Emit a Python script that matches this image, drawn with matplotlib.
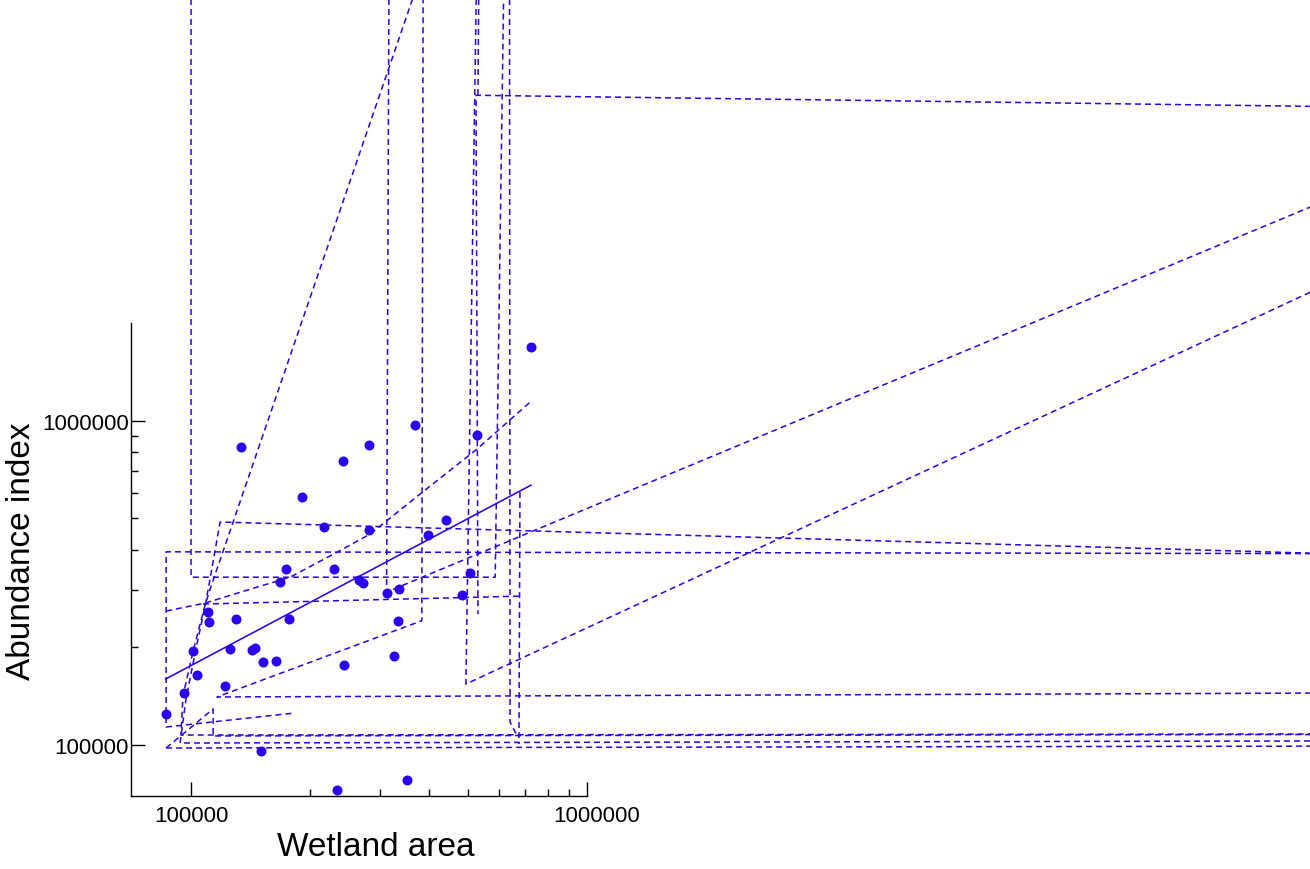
import matplotlib
matplotlib.use("Agg")
import matplotlib.pyplot as plt
import matplotlib.transforms as mtransforms
from matplotlib.ticker import FixedLocator, FixedFormatter, NullFormatter
import numpy as np

plt.rcParams['font.family'] = ['Liberation Sans', 'DejaVu Sans']
plt.rcParams['lines.scale_dashes'] = False

# wetland area vs abundance index (points)
area = [723000, 368000, 528000, 133500, 282000, 242000, 190800, 441000, 217000, 281000,
        397000, 174100, 230000, 167600, 266000, 272000, 507000, 312000, 336000, 483000,
        110200, 110800, 129700, 176900, 333000, 101300, 125500, 142900, 145100, 151800,
        164300, 325000, 244000, 103400, 121700, 95800, 86300, 150300, 351000, 234000]
abundance = [1690000, 968000, 903000, 828000, 843000, 749000, 582000, 495000, 470000, 461000,
             444000, 349000, 348000, 318000, 323000, 316000, 339000, 295000, 303000, 290000,
             257000, 240000, 244000, 244000, 241000, 194000, 198000, 196000, 199000, 180000,
             181000, 188000, 176000, 164000, 152000, 144000, 124000, 95600, 77600, 72300]

# dashed band lines (area, abundance vertices)
band1_x = [1.0e5, 1.0e5, 5.87e5, 6.18e5]
band1_y = [2.5e7, 3.29e5, 3.29e5, 2.5e7]
band2_x = [8.0e7, 86500, 86500, 183100]
band2_y = [389000, 394000, 113400, 125300]
band3_x = [3.86e5, 1.117e5, 1.085e5, 1.012e5, 95400, 94300, 8.0e7]
band3_y = [2.5e7, 302000, 270000, 194600, 141300, 107100, 107900]
band4_x = [8.0e7, 1.184e5, 1.117e5, 1.085e5, 1.030e5, 97100, 93800, 8.0e7]
band4_y = [388000, 487000, 325000, 268000, 199000, 138400, 101200, 102700]
band5_x = [86500, 1.085e5, 1.41e5, 1.779e5, 2.34e5, 2.835e5, 3.79e5, 5.28e5, 7.19e5]
band5_y = [258600, 273700, 302000, 329000, 393000, 447000, 594000, 818000, 1142000]
band6_x = [8.0e7, 1.163e5, 3.83e5, 3.86e5]
band6_y = [144400, 140400, 241400, 2.5e7]
band7_x = [5.27e5, 4.95e5, 8.0e7]
band7_y = [2.5e7, 153900, 2.75e6]
band8_x = [3.165e5, 3.12e5, 8.0e7]
band8_y = [2.5e7, 296000, 4.99e6]
band9_x = [8.0e7, 5.25e5, 5.31e5]
band9_y = [9.33e6, 1.012e7, 253000]
band10_x = [5.34e5, 5.31e5]
band10_y = [2.5e7, 1.012e7]
band11_x = [1.072e5, 6.90e5]
band11_y = [271800, 287700]
band12_x = [6.78e5, 6.74e5]
band12_y = [602400, 100500]
band13_x = [6.38e5, 6.40e5, 6.67e5]
band13_y = [2.5e7, 117500, 106400]
band14_x = [86500, 1.137e5, 1.137e5, 8.0e7]
band14_y = [97700, 128900, 106400, 107500]
band15_x = [86500, 8.0e7]
band15_y = [97700, 99000]

bands = [(band1_x, band1_y), (band2_x, band2_y), (band3_x, band3_y), (band4_x, band4_y),
         (band5_x, band5_y), (band6_x, band6_y), (band7_x, band7_y), (band8_x, band8_y),
         (band9_x, band9_y), (band10_x, band10_y), (band11_x, band11_y), (band12_x, band12_y),
         (band13_x, band13_y), (band14_x, band14_y), (band15_x, band15_y)]

color = '#2b00ee'

fig = plt.figure(figsize=(13.1, 8.7), dpi=100)
ax = fig.add_axes([0.0998, 0.0843, 0.3481, 0.5429])
ax.set_xscale('log')
ax.set_yscale('log')

ax.plot(area, abundance, 'o', color=color, markersize=7.2, markeredgewidth=0, clip_on=False)

# regression on log scale
lx = np.log10(area)
ly = np.log10(abundance)
slope, icpt = np.polyfit(lx, ly, 1)
fx = np.array([min(lx), max(lx)])
ax.plot(10 ** fx, 10 ** (icpt + slope * fx), '-', color=color, linewidth=1.15, clip_on=False)

for bx, by in bands:
    ax.plot(bx, by, color=color, linewidth=1.1, dashes=(4.3, 2.9), clip_on=False)

ax.set_xlim(70400, 1.0e6)
ax.set_ylim(69600, 2.0e6)

for s in ['top', 'right']:
    ax.spines[s].set_visible(False)
for s in ['left', 'bottom']:
    ax.spines[s].set_linewidth(1.0)
    ax.spines[s].set_color('black')

ax.xaxis.set_major_locator(FixedLocator([1e5, 1e6]))
ax.xaxis.set_major_formatter(FixedFormatter(['100000', '1000000']))
ax.xaxis.set_minor_locator(FixedLocator([2e5, 3e5, 4e5, 5e5, 6e5, 7e5, 8e5, 9e5]))
ax.xaxis.set_minor_formatter(NullFormatter())
ax.yaxis.set_major_locator(FixedLocator([1e5, 1e6]))
ax.yaxis.set_major_formatter(FixedFormatter(['100000', '1000000']))
ax.yaxis.set_minor_locator(FixedLocator([2e5, 3e5, 4e5, 5e5, 6e5, 7e5, 8e5, 9e5]))
ax.yaxis.set_minor_formatter(NullFormatter())

ax.tick_params(which='major', direction='in', length=10, width=1.0, labelsize=16)
ax.tick_params(which='minor', direction='in', length=5, width=1.0)
ax.tick_params(axis='x', which='major', pad=7)
ax.tick_params(axis='y', which='major', pad=1.5)

# last x tick label sits a little right of its tick in the original
lab = ax.xaxis.get_major_ticks()[1].label1
lab.set_transform(lab.get_transform() + mtransforms.ScaledTranslation(0.1, 0, fig.dpi_scale_trans))

fig.text(376 / 1310, 1 - 848 / 870, 'Wetland area', fontsize=24, ha='center', va='center')
fig.text(22 / 1310, 1 - 551 / 870, 'Abundance index', fontsize=24, ha='center', va='center',
         rotation=90)

fig.savefig('out.png', dpi=100)
